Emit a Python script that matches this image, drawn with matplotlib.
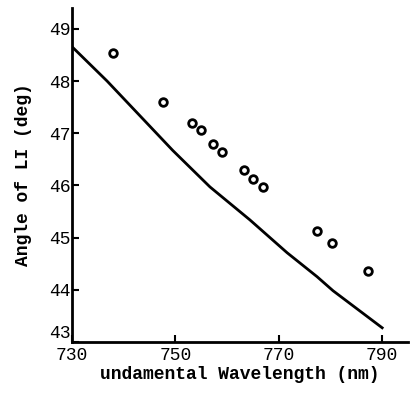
import matplotlib
matplotlib.use("Agg")
import matplotlib.pyplot as plt

# theory curve
wl_line = [730, 736.8, 749.5, 756.7, 764.4, 771.6, 777.4, 780.5, 790]
ang_line = [48.66, 48.0, 46.67, 45.97, 45.34, 44.71, 44.25, 43.98, 43.27]

# measured points
wl_pts = [737.9, 747.6, 753.2, 755.0, 757.3, 759.0, 763.3, 765.0, 766.9, 777.4, 780.3, 787.2]
ang_pts = [48.54, 47.6, 47.2, 47.07, 46.8, 46.64, 46.3, 46.13, 45.97, 45.13, 44.9, 44.35]

xticks = [730, 750, 770, 790]
yticks = [43, 44, 45, 46, 47, 48, 49]

plt.rcParams['font.family'] = ['Liberation Mono', 'DejaVu Sans Mono']

fig = plt.figure(figsize=(4.13, 3.98), dpi=100)
ax = fig.add_axes([0.174, 0.141, 0.814, 0.839])

ax.plot(wl_line, ang_line, color='black', lw=2)
ax.plot(wl_pts, ang_pts, 'o', mfc='white', mec='black', ms=5.5, mew=2)

ax.set_xlim(730, 795)
ax.set_ylim(43, 49.4)
ax.set_xticks(xticks)
ax.set_yticks(yticks)
ax.tick_params(direction='in', length=5, width=1.5, labelsize=13)
ax.tick_params(axis='y', pad=1)
ax.tick_params(axis='x', pad=4)

# "43" sits just above the x axis in the original
ax.get_yticklabels()[0].set_verticalalignment('bottom')

for s in ['top', 'right']:
    ax.spines[s].set_visible(False)
for s in ['left', 'bottom']:
    ax.spines[s].set_linewidth(2)

ax.set_xlabel("undamental Wavelength (nm)", fontsize=13, fontweight='bold', labelpad=1)
ax.set_ylabel("Angle of LI (deg)", fontsize=13, fontweight='bold', labelpad=12)

fig.savefig("out.png", dpi=100)
